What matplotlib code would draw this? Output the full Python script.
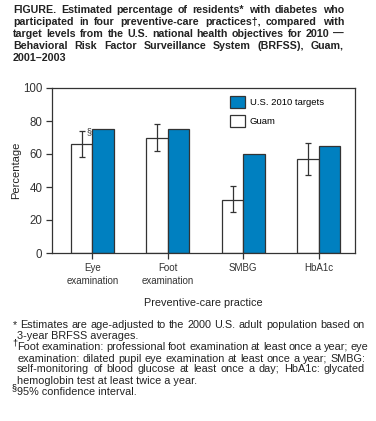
import numpy as np
import matplotlib
matplotlib.use("Agg")
import matplotlib.pyplot as plt

plt.rcParams['font.family'] = ['Liberation Sans', 'DejaVu Sans']

practices = ["Eye\nexamination", "Foot\nexamination", "SMBG", "HbA1c"]
guam = [66, 70, 32, 57]
guam_low = [58, 62, 24.6, 47]
guam_high = [73.7, 78, 40.4, 66.5]
targets = [75, 75, 60, 65]

title_lines = [
    "FIGURE. Estimated percentage of residents* with diabetes who",
    "participated in four preventive-care practices\u2020, compared with",
    "target levels from the U.S. national health objectives for 2010 \u2014",
    "Behavioral Risk Factor Surveillance System (BRFSS), Guam,",
    "2001\u20132003",
]
note_lines = [
    "* Estimates are age-adjusted to the 2000 U.S. adult population based on",
    "3-year BRFSS averages.",
    "Foot examination: professional foot examination at least once a year; eye",
    "examination: dilated pupil eye examination at least once a year; SMBG:",
    "self-monitoring of blood glucose at least once a day; HbA1c: glycated",
    "hemoglobin test at least twice a year.",
    "95% confidence interval.",
]

W, H = 376, 421
fig = plt.figure(figsize=(W / 100, H / 100), dpi=100)
renderer = fig.canvas.get_renderer()


def put_line(text, x0, x1, y, size, weight="normal", justify=True):
    # y is the pixel row from the top of the picture, text drawn with baseline there
    words = text.split(" ")
    if not justify or len(words) == 1:
        fig.text(x0 / W, 1 - y / H, text, fontsize=size, fontweight=weight,
                 va="baseline", ha="left", color="#222222")
        return
    items = []
    for w in words:
        t = fig.text(x0 / W, 1 - y / H, w, fontsize=size, fontweight=weight,
                     va="baseline", ha="left", color="#222222")
        items.append((t, t.get_window_extent(renderer).width))
    total = sum(wd for _, wd in items)
    gap = max((x1 - x0 - total) / (len(items) - 1), 2.5)
    x = x0
    for t, wd in items:
        t.set_x(x / W)
        x += wd + gap


# title
for i, line in enumerate(title_lines):
    put_line(line, 13, 344, 13 + i * 12, 7.7, "bold", justify=(i < 4))

ax = fig.add_axes([52 / W, 1 - 253 / H, 303 / W, 165 / H])
x = np.arange(len(practices))
bw = 0.285
err = [np.array(guam) - np.array(guam_low), np.array(guam_high) - np.array(guam)]
ax.bar(x - bw / 2, guam, bw, color="white", edgecolor="#333333", linewidth=0.9,
       label="Guam", zorder=2)
ax.bar(x + bw / 2, targets, bw, color="#0080c0", edgecolor="#333333", linewidth=0.9,
       label="U.S. 2010 targets", zorder=2)
ax.errorbar(x - bw / 2, guam, yerr=err, fmt="none", ecolor="#333333",
            elinewidth=0.9, capsize=2.5, capthick=0.9, zorder=3)
ax.text(x[0] - bw / 2 + 0.06, guam_high[0], "\u00a7", fontsize=6.5,
        va="center", ha="left", color="#333333")

ax.set_xlim(-0.534, 3.48)
ax.set_ylim(0, 100)
ax.set_yticks(range(0, 101, 20))
ax.set_xticks(x)
ax.set_xticklabels(practices, fontsize=7, linespacing=1.35)
ax.tick_params(axis="y", labelsize=8.3, length=4, width=0.9, colors="#333333", pad=3)
ax.tick_params(axis="x", length=4, width=0.9, colors="#333333", pad=3)
for s in ax.spines.values():
    s.set_color("#333333")
    s.set_linewidth(0.9)
ax.set_ylabel("Percentage", fontsize=8, color="#222222", labelpad=1)
ax.set_xlabel("Preventive-care practice", fontsize=7.8, color="#222222", labelpad=9)

h, l = ax.get_legend_handles_labels()
ax.legend(h[::-1], l[::-1], loc="upper left",
          bbox_to_anchor=((230 - 52) / 303, (253 - 95.5) / 165),
          frameon=False, fontsize=6.8, handlelength=1.6, handleheight=1.6,
          handletextpad=0.5, borderpad=0, borderaxespad=0, labelspacing=0.8)

# footnotes
ys = [328, 339, 350.5, 361.5, 372.5, 383.5, 395]
fs = 7.8
put_line(note_lines[0], 13, 365, ys[0], fs)
put_line(note_lines[1], 17, 365, ys[1], fs, justify=False)
fig.text(12 / W, 1 - (ys[2] - 5) / H, "\u2020", fontsize=6.5, ha="left", va="baseline")
for i in range(2, 5):
    put_line(note_lines[i], 17, 365, ys[i], fs)
put_line(note_lines[5], 17, 365, ys[5], fs, justify=False)
fig.text(12 / W, 1 - (ys[6] - 5) / H, "\u00a7", fontsize=6.5, ha="left", va="baseline")
put_line(note_lines[6], 17, 365, ys[6], fs, justify=False)

fig.savefig("out.png", dpi=100)
